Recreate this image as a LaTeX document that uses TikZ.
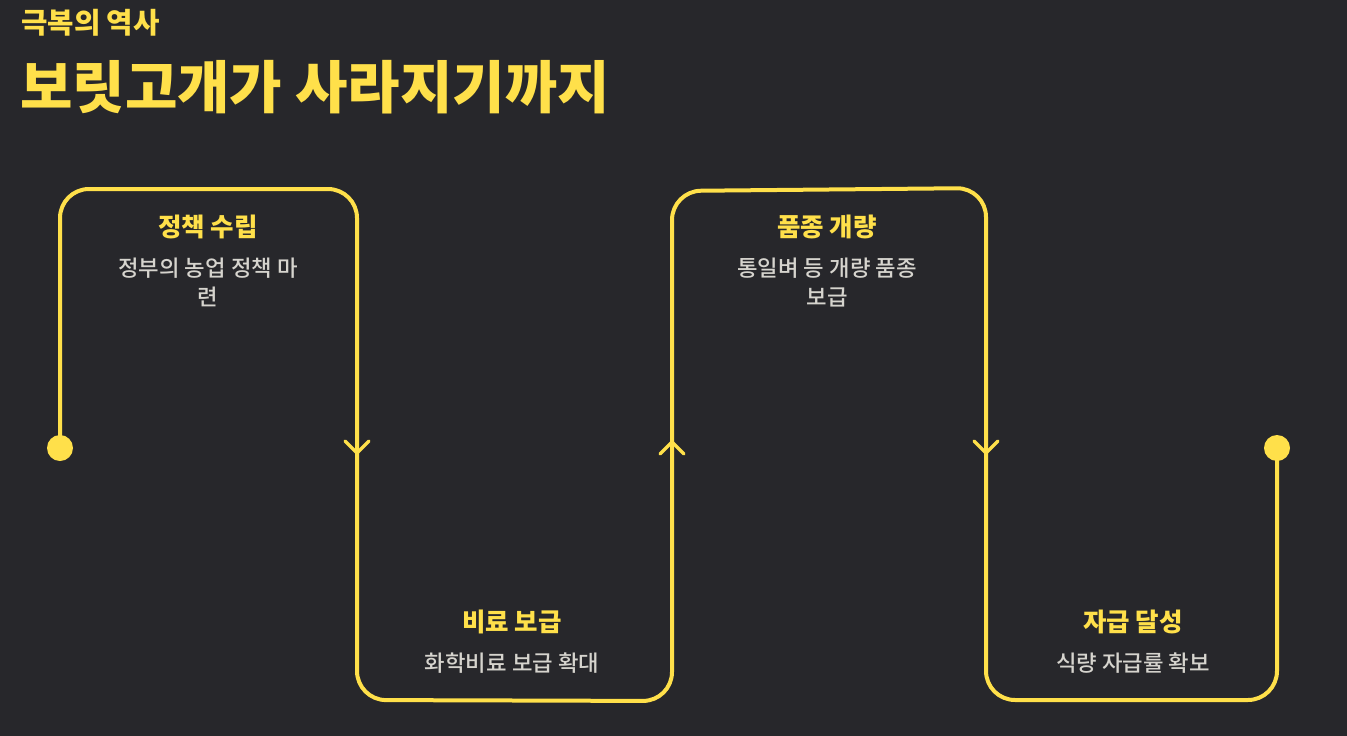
\documentclass[tikz,border=0pt]{standalone}
\usepackage{fontspec}
\setmainfont{Noto Sans CJK KR}
\newfontfamily\krmed{Noto Sans CJK KR Medium}
\definecolor{bg}{RGB}{39,39,43}
\definecolor{ylw}{RGB}{255,224,74}
\definecolor{desc}{RGB}{214,212,206}
\begin{document}
\begin{tikzpicture}[x=1pt,y=-1pt,
  flow/.style={draw=ylw,line width=4pt,rounded corners=29pt},
  chev/.style={draw=ylw,line width=3.5pt,line cap=round,line join=round},
  dotnode/.style={circle,fill=ylw,inner sep=0pt,minimum size=26pt},
  steptitle/.style={text=ylw,font=\fontsize{25.5}{30}\selectfont\bfseries,inner sep=0pt,anchor=center},
  stepdesc/.style={text=desc,font=\fontsize{22.3}{29}\selectfont\krmed,inner sep=0pt,anchor=north,align=center},
]
\fill[bg] (0,0) rectangle (1347,736);
\useasboundingbox (0,0) rectangle (1347,736);

% headings
\node[text=ylw,font=\fontsize{28.7}{32}\selectfont\bfseries,inner sep=0pt,anchor=west] (sub) at (21,23) {극복의 역사};
\node[text=ylw,font=\fontsize{57}{64}\selectfont\bfseries,inner sep=0pt,anchor=west] (title) at (20,87) {보릿고개가 사라지기까지};

% path coordinates
\coordinate (s) at (60,448);
\coordinate (c1) at (60,189);
\coordinate (c2) at (357,189);
\coordinate (c3) at (357,700);
\coordinate (c4) at (672,701);
\coordinate (c5) at (672,191);
\coordinate (c6) at (986,188);
\coordinate (c7) at (986,700);
\coordinate (c8) at (1277,700);
\coordinate (e) at (1277,448);

\draw[flow] (s) -- (c1) -- (c2) -- (c3) -- (c4) -- (c5) -- (c6) -- (c7) -- (c8) -- (e);

\node[dotnode] (startdot) at (s) {};
\node[dotnode] (enddot) at (e) {};

% chevrons
\coordinate (a1) at (357,453);
\coordinate (a2) at (672,442);
\coordinate (a3) at (986,453);
\draw[chev] ([shift={(-12,-12)}]a1) -- (a1) -- ([shift={(12,-12)}]a1);
\draw[chev] ([shift={(-12,12)}]a2) -- (a2) -- ([shift={(12,12)}]a2);
\draw[chev] ([shift={(-12,-12)}]a3) -- (a3) -- ([shift={(12,-12)}]a3);

% step texts
\node[steptitle] (t1) at (208,227) {정책 수립};
\node[stepdesc] (d1) at (208,258) {정부의 농업 정책 마\\련};
\node[steptitle] (t2) at (512,622) {비료 보급};
\node[stepdesc] (d2) at (512,653) {화학비료 보급 확대};
\node[steptitle] (t3) at (827,227) {품종 개량};
\node[stepdesc] (d3) at (827,258) {통일벼 등 개량 품종\\보급};
\node[steptitle] (t4) at (1133,622) {자급 달성};
\node[stepdesc] (d4) at (1133,653) {식량 자급률 확보};
\end{tikzpicture}
\end{document}
